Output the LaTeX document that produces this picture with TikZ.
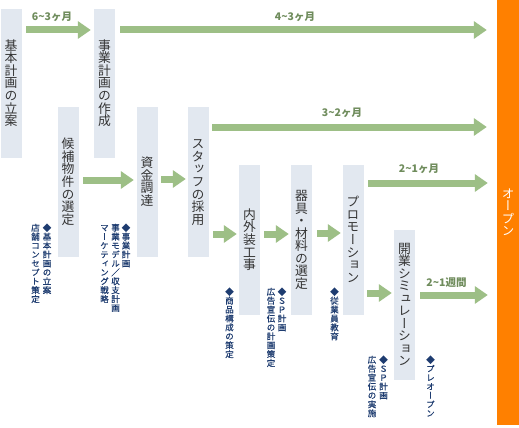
\documentclass[tikz,border=0pt]{standalone}
\usepackage{fontspec}
\usetikzlibrary{arrows.meta}
\newfontfamily\jp{Noto Sans CJK JP}
\newfontfamily\jpv{Noto Sans CJK JP}[RawFeature=+vert]
\newfontfamily\jpvn{Noto Sans CJK JP}[RawFeature=+vert, FakeBold=0.6]
\definecolor{boxfill}{HTML}{E2E8F0}
\definecolor{arrowgreen}{HTML}{9DBF86}
\definecolor{labelgreen}{HTML}{6F8C5C}
\definecolor{boxtext}{HTML}{333333}
\definecolor{notenavy}{HTML}{1E3C70}
\definecolor{openorange}{HTML}{FF8000}
\def\vtpitch{1em}
\newcommand\vtchar[1]{\hbox to 1em{\vrule height \dimexpr\vtpitch-0.14em\relax depth 0.14em width 0pt\hss#1\hss}}
\def\vtloop#1{\ifx#1\relax\else\vtchar{#1}\expandafter\vtloop\fi}
\newcommand\vt[1]{\vtop{\offinterlineskip\vtloop#1\relax}}
\tikzset{
  stepbox/.style={fill=boxfill, inner sep=0pt, text=boxtext, minimum width=21pt,
    font=\jpv\fontsize{12.8}{14}\selectfont\def\vtpitch{0.98em}},
  openbox/.style={fill=openorange, inner sep=0pt, text=white, minimum width=22pt,
    font=\jpv\fontsize{12.5}{14}\selectfont\def\vtpitch{1em}},
  fat/.style={draw=arrowgreen, line width=7pt, -{Triangle[width=17pt,length=13pt]}},
  period/.style={text=labelgreen, inner sep=0pt, font=\jp\bfseries\fontsize{10.5}{12}\selectfont},
  note/.style={text=notenavy, inner sep=0pt, anchor=north,
    font=\jpvn\fontsize{8.5}{10}\selectfont\def\vtpitch{1.05em}},
}
\begin{document}
\begin{tikzpicture}[x=1pt,y=-1pt]
\fill[white] (0,0) rectangle (519,428);
\useasboundingbox (0,0) rectangle (519,428);
% boxes
\node[stepbox, minimum height=149pt] (b1) at (11,83.5) {\vt{基本計画の立案}};
\node[stepbox, minimum height=149pt] (b2) at (104.5,83.5) {\vt{事業計画の作成}};
\node[stepbox, minimum height=150pt] (b3) at (68,182) {\vt{候補物件の選定}};
\node[stepbox, minimum height=150pt] (b4) at (147,182) {\vt{資金調達}};
\node[stepbox, minimum height=150pt] (b5) at (198,182) {\vt{スタッフの採用}};
\node[stepbox, minimum height=150pt] (b6) at (249.5,240) {\vt{内外装工事}};
\node[stepbox, minimum height=150pt] (b7) at (301.5,240) {\vt{器具・材料の選定}};
\node[stepbox, minimum height=150pt] (b8) at (353,240) {\vt{プロモーション}};
\node[stepbox, minimum height=150pt] (b9) at (404.5,305) {\vt{開業シミュレーション}};
\node[openbox, minimum height=425pt] (open) at (508,212.5) {\vt{オープン}};
% arrows
\draw[fat, shorten <=4.5pt, shorten >=3pt] (b1.east |- 0,30) -- (b2.west |- 0,30);
\draw[fat, shorten <=5pt, shorten >=10pt] (b2.east |- 0,30) -- (open.west |- 0,30);
\draw[fat, shorten <=3.5pt, shorten >=10pt] (b5.east |- 0,127) -- (open.west |- 0,127);
\draw[fat, shorten <=4.5pt, shorten >=9pt] (b8.east |- 0,183) -- (open.west |- 0,183);
\draw[fat, shorten <=4.5pt, shorten >=2.5pt] (b3.east |- 0,180) -- (b4.west |- 0,180);
\draw[fat, shorten <=3.5pt, shorten >=1.5pt] (b4.east |- 0,179) -- (b5.west |- 0,179);
\draw[fat, shorten <=4.5pt, shorten >=2pt] (b5.east |- 0,234) -- (b6.west |- 0,234);
\draw[fat, shorten <=4pt, shorten >=2pt] (b6.east |- 0,234) -- (b7.west |- 0,234);
\draw[fat, shorten <=5pt, shorten >=1.5pt] (b7.east |- 0,233) -- (b8.west |- 0,233);
\draw[fat, shorten <=3.5pt, shorten >=2pt] (b8.east |- 0,293) -- (b9.west |- 0,293);
\draw[fat, shorten <=5pt, shorten >=9pt] (b9.east |- 0,295) -- (open.west |- 0,295);
% period labels
\node[period] (l1) at (52,17) {6{\char`\~}3ヶ月};
\node[period] (l2) at (295,17) {4{\char`\~}3ヶ月};
\node[period] (l3) at (342,113) {3{\char`\~}2ヶ月};
\node[period] (l4) at (419,169) {2{\char`\~}1ヶ月};
\node[period] (l5) at (446.5,283) {2{\char`\~}1週間};
% notes
\node[note] (n1a) at (47,223) {\vt{◆基本計画の立案}};
\node[note] (n1b) at (35.5,223) {\vt{店舗コンセプト策定}};
\node[note] (n2a) at (126,223) {\vt{◆事業計画}};
\node[note] (n2b) at (115.5,223) {\vt{事業モデル／収支計画}};
\node[note] (n2c) at (104.5,223) {\vt{マーケティング戦略}};
\node[note] (n3a) at (229.5,287) {\vt{◆商品構成の策定}};
\node[note] (n4a) at (282,287) {\vt{◆ＳＰ計画}};
\node[note] (n4b) at (271,287) {\vt{広告宣伝の計画策定}};
\node[note] (n5a) at (334.5,287) {\vt{◆従業員教育}};
\node[note] (n6a) at (383.5,355) {\vt{◆ＳＰ計画}};
\node[note] (n6b) at (372,355) {\vt{広告宣伝の実施}};
\node[note] (n7a) at (430.5,355) {\vt{◆プレオープン}};
\end{tikzpicture}
\end{document}
